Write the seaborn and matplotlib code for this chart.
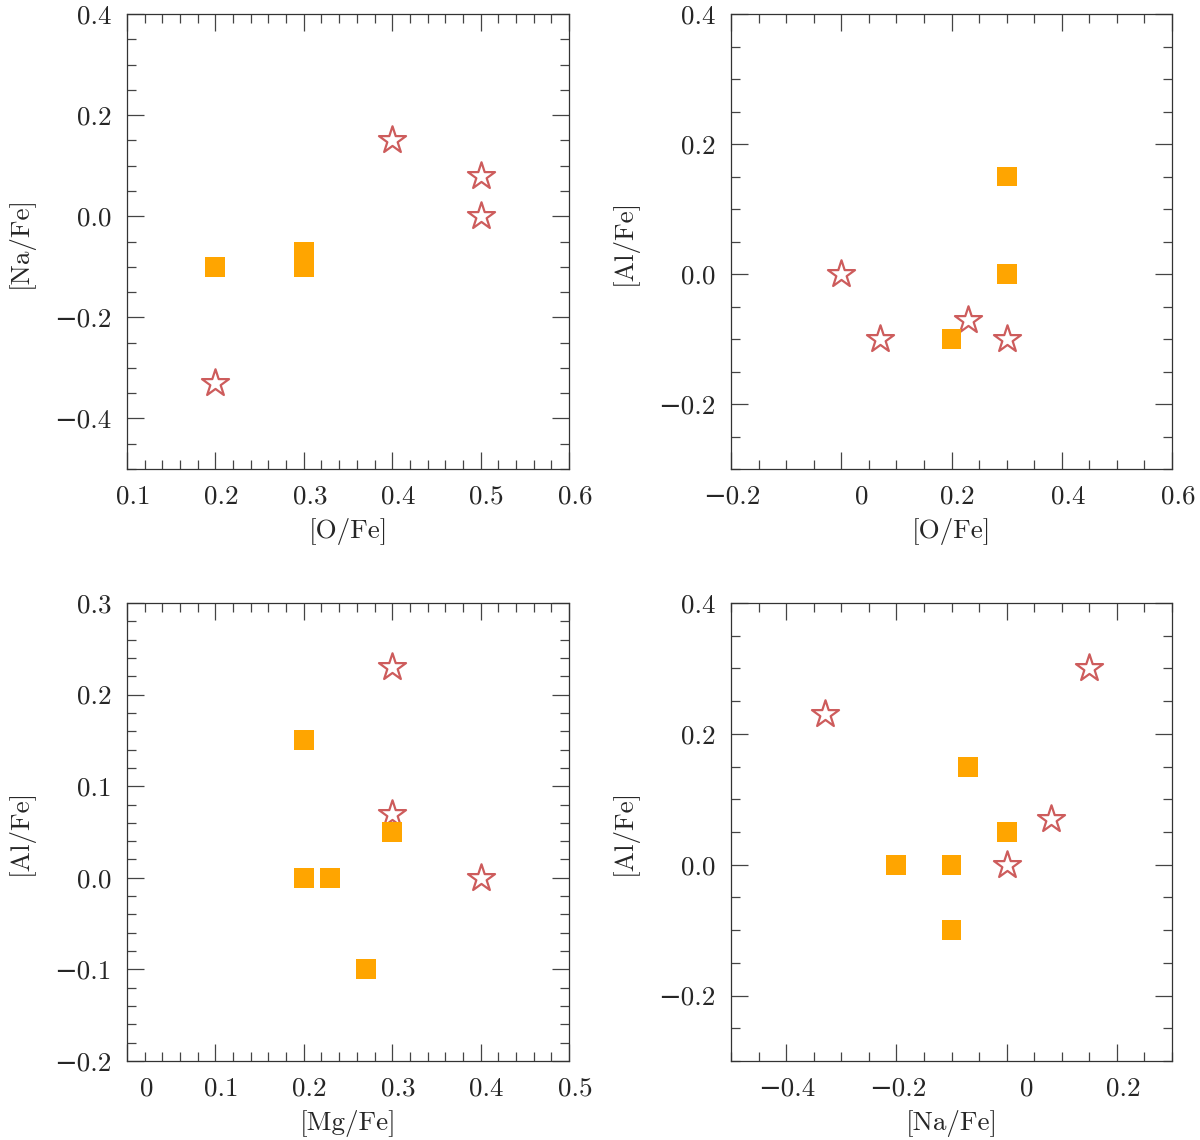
import numpy as np
import pandas as pd
import matplotlib
matplotlib.use("Agg")
import matplotlib.pyplot as plt
import matplotlib.transforms as mtransforms
from matplotlib.ticker import MultipleLocator, FixedLocator, FixedFormatter
import seaborn as sns

# ---------------- data ----------------
# Panel (a): [O/Fe] vs [Na/Fe]
a_sq_x = [0.2, 0.3, 0.3]
a_sq_y = [-0.1, -0.1, -0.07]
a_st_x = [0.4, 0.5, 0.5, 0.2]
a_st_y = [0.15, 0.08, 0.0, -0.33]
# Panel (b): [O/Fe] vs [Al/Fe]
b_sq_x = [0.3, 0.3, 0.2]
b_sq_y = [0.15, 0.0, -0.1]
b_st_x = [0.0, 0.07, 0.23, 0.3]
b_st_y = [0.0, -0.1, -0.07, -0.1]
# Panel (c): [Mg/Fe] vs [Al/Fe]
c_sq_x = [0.2, 0.2, 0.23, 0.3, 0.27]
c_sq_y = [0.15, 0.0, 0.0, 0.05, -0.1]
c_st_x = [0.3, 0.3, 0.4]
c_st_y = [0.23, 0.07, 0.0]
# Panel (d): [Na/Fe] vs [Al/Fe]
d_sq_x = [-0.07, -0.2, -0.1, -0.1, 0.0]
d_sq_y = [0.15, 0.0, 0.0, -0.1, 0.05]
d_st_x = [-0.33, 0.15, 0.08, 0.0]
d_st_y = [0.23, 0.3, 0.07, 0.0]

# axis labels
a_xlabel, a_ylabel = "[O/Fe]", "[Na/Fe]"
b_xlabel, b_ylabel = "[O/Fe]", "[Al/Fe]"
c_xlabel, c_ylabel = "[Mg/Fe]", "[Al/Fe]"
d_xlabel, d_ylabel = "[Na/Fe]", "[Al/Fe]"

# tick values and labels
a_xticks = [0.1, 0.2, 0.3, 0.4, 0.5, 0.6]
a_xticklabels = ["0.1", "0.2", "0.3", "0.4", "0.5", "0.6"]
a_yticks = [-0.4, -0.2, 0.0, 0.2, 0.4]
a_yticklabels = ["\u22120.4", "\u22120.2", "0.0", "0.2", "0.4"]

b_xticks = [-0.2, 0.0, 0.2, 0.4, 0.6]
b_xticklabels = ["\u22120.2", "0", "0.2", "0.4", "0.6"]
b_yticks = [-0.2, 0.0, 0.2, 0.4]
b_yticklabels = ["\u22120.2", "0.0", "0.2", "0.4"]

c_xticks = [0.0, 0.1, 0.2, 0.3, 0.4, 0.5]
c_xticklabels = ["0", "0.1", "0.2", "0.3", "0.4", "0.5"]
c_yticks = [-0.2, -0.1, 0.0, 0.1, 0.2, 0.3]
c_yticklabels = ["\u22120.2", "\u22120.1", "0.0", "0.1", "0.2", "0.3"]

d_xticks = [-0.4, -0.2, 0.0, 0.2]
d_xticklabels = ["\u22120.4", "\u22120.2", "0", "0.2"]
d_yticks = [-0.2, 0.0, 0.2, 0.4]
d_yticklabels = ["\u22120.2", "0.0", "0.2", "0.4"]

# ---------------- style ----------------
sns.set_style("ticks")
plt.rcParams["font.family"] = ["cmr10", "DejaVu Serif"]
plt.rcParams["axes.unicode_minus"] = True

SQ_COLOR = "#FFA500"
ST_COLOR = "#CD5C5C"
TXT = "#262626"
FRAME = "#333333"
FS = 19.5

fig = plt.figure(figsize=(12, 11.4), dpi=100)
W, H = 1200, 1140


def add_ax(l, t, r, b):
    return fig.add_axes([l / W, 1 - b / H, (r - l) / W, (b - t) / H])


ax_a = add_ax(127, 14, 569, 469)
ax_b = add_ax(731, 14, 1172, 469)
ax_c = add_ax(127, 603, 569, 1061)
ax_d = add_ax(731, 603, 1172, 1061)

panels = [
    (ax_a, a_sq_x, a_sq_y, a_st_x, a_st_y, a_xlabel, a_ylabel,
     (0.1, 0.6), (-0.5, 0.4), a_xticks, a_xticklabels, a_yticks, a_yticklabels, 0.02, 0.05),
    (ax_b, b_sq_x, b_sq_y, b_st_x, b_st_y, b_xlabel, b_ylabel,
     (-0.2, 0.6), (-0.3, 0.4), b_xticks, b_xticklabels, b_yticks, b_yticklabels, 0.05, 0.05),
    (ax_c, c_sq_x, c_sq_y, c_st_x, c_st_y, c_xlabel, c_ylabel,
     (0.0, 0.5), (-0.2, 0.3), c_xticks, c_xticklabels, c_yticks, c_yticklabels, 0.02, 0.02),
    (ax_d, d_sq_x, d_sq_y, d_st_x, d_st_y, d_xlabel, d_ylabel,
     (-0.5, 0.3), (-0.3, 0.4), d_xticks, d_xticklabels, d_yticks, d_yticklabels, 0.05, 0.05),
]

for (ax, sqx, sqy, stx, sty, xl, yl, xlim, ylim,
     xt, xtl, yt, ytl, xminor, yminor) in panels:
    st_df = pd.DataFrame({"x": stx, "y": sty})
    sq_df = pd.DataFrame({"x": sqx, "y": sqy})
    sns.scatterplot(data=st_df, x="x", y="y", ax=ax, marker="*", s=420,
                    color="white", edgecolor=ST_COLOR, linewidth=1.6, zorder=3)
    sns.scatterplot(data=sq_df, x="x", y="y", ax=ax, marker="s", s=207,
                    color=SQ_COLOR, edgecolor="none", linewidth=0, zorder=4)
    ax.set_xlim(*xlim)
    ax.set_ylim(*ylim)
    ax.xaxis.set_major_locator(FixedLocator(xt))
    ax.xaxis.set_major_formatter(FixedFormatter(xtl))
    ax.yaxis.set_major_locator(FixedLocator(yt))
    ax.yaxis.set_major_formatter(FixedFormatter(ytl))
    ax.xaxis.set_minor_locator(MultipleLocator(xminor))
    ax.yaxis.set_minor_locator(MultipleLocator(yminor))
    ax.tick_params(which="both", direction="in", top=True, right=True,
                   color="#444444", width=0.9)
    ax.tick_params(which="major", length=12.5, labelsize=FS, labelcolor=TXT)
    ax.tick_params(which="minor", length=6.5)
    ax.tick_params(axis="x", which="major", pad=11)
    ax.tick_params(axis="y", which="major", pad=11)
    for sp in ax.spines.values():
        sp.set_color(FRAME)
        sp.set_linewidth(0.9)
        sp.set_visible(True)
    ax.set_xlabel(xl, fontsize=FS, color=TXT, labelpad=7)
    ax.set_ylabel(yl, fontsize=FS, color=TXT, labelpad=15)
    ax.grid(False)
    # mimic the slight rightward shift of the x tick labels in the original
    for lab in ax.get_xticklabels():
        txt = lab.get_text()
        if txt == "0":
            dx = 20
        elif txt.startswith("\u2212"):
            dx = 1
        else:
            dx = 6
        off = mtransforms.ScaledTranslation(dx / 100.0, 0, fig.dpi_scale_trans)
        lab.set_transform(lab.get_transform() + off)

fig.savefig("out.png", dpi=100, facecolor="white")
